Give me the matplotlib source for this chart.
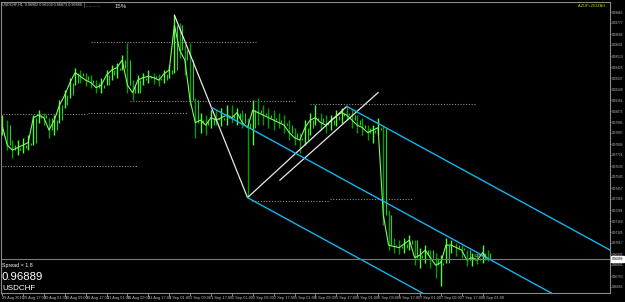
import matplotlib
matplotlib.use("Agg")
import matplotlib.pyplot as plt
import numpy as np
from matplotlib.transforms import blended_transform_factory

plt.rcParams['font.family'] = ['Liberation Sans', 'DejaVu Sans']

symbol = "USDCHF"
bid = 0.96889

# 2-hour bars, 29 Aug 09:00 .. 8 Sep 03:00 (weekend skipped)
highs = [0.9804, 0.9800, 0.9784, 0.9784, 0.9786, 0.9788, 0.9804, 0.9808, 0.9806, 0.9802,
         0.9804, 0.9816, 0.9824, 0.9834, 0.9842, 0.9840, 0.9838, 0.9836, 0.9832, 0.9834,
         0.9840, 0.9844, 0.9846, 0.9852, 0.9862, 0.9832, 0.9836, 0.9838, 0.9840, 0.9838,
         0.9837, 0.9840, 0.9844, 0.9884, 0.9878, 0.9860, 0.9862, 0.9818, 0.9806, 0.9804,
         0.9808, 0.9808, 0.9810, 0.9812, 0.9812, 0.9810, 0.9808, 0.9802, 0.9816, 0.9818,
         0.9812, 0.9810, 0.9808, 0.9806, 0.9804, 0.9800, 0.9794, 0.9790, 0.9800, 0.9806,
         0.9812, 0.9806, 0.9804, 0.9804, 0.9808, 0.9810, 0.9811, 0.9808, 0.9804, 0.9802,
         0.9796, 0.9796, 0.9802, 0.9796, 0.9728, 0.9706, 0.9704, 0.9706, 0.9708, 0.9704,
         0.9698, 0.9700, 0.9696, 0.9694, 0.9692, 0.9706, 0.9704, 0.9702, 0.9700, 0.9696,
         0.9694, 0.9693, 0.9700, 0.9696]
lows = [0.9788, 0.9776, 0.9770, 0.9772, 0.9774, 0.9776, 0.9780, 0.9798, 0.9796, 0.9786,
        0.9788, 0.9798, 0.9810, 0.9818, 0.9828, 0.9830, 0.9827, 0.9826, 0.9822, 0.9822,
        0.9828, 0.9832, 0.9834, 0.9840, 0.9822, 0.9816, 0.9822, 0.9828, 0.9830, 0.9829,
        0.9827, 0.9830, 0.9834, 0.9838, 0.9850, 0.9836, 0.9812, 0.9786, 0.9790, 0.9788,
        0.9794, 0.9796, 0.9795, 0.9796, 0.9798, 0.9796, 0.9794, 0.9738, 0.9780, 0.9796,
        0.9796, 0.9794, 0.9792, 0.9794, 0.9790, 0.9784, 0.9780, 0.9774, 0.9780, 0.9788,
        0.9796, 0.9792, 0.9790, 0.9792, 0.9795, 0.9798, 0.9800, 0.9794, 0.9790, 0.9788,
        0.9784, 0.9782, 0.9788, 0.9716, 0.9696, 0.9694, 0.9693, 0.9694, 0.9696, 0.9684,
        0.9682, 0.9686, 0.9682, 0.9674, 0.9667, 0.9686, 0.9694, 0.9691, 0.9690, 0.9683,
        0.9683, 0.9685, 0.9686, 0.9687]
closes = [0.9796, 0.9780, 0.9776, 0.9778, 0.9780, 0.9782, 0.9802, 0.9804, 0.9802, 0.9792,
          0.9800, 0.9812, 0.9820, 0.9830, 0.9838, 0.9835, 0.9832, 0.9830, 0.9826, 0.9828,
          0.9836, 0.9840, 0.9842, 0.9848, 0.9828, 0.9822, 0.9832, 0.9834, 0.9835, 0.9834,
          0.9832, 0.9837, 0.9840, 0.9876, 0.9856, 0.9848, 0.9816, 0.9798, 0.9800, 0.9796,
          0.9802, 0.9800, 0.9802, 0.9804, 0.9802, 0.9806, 0.9798, 0.9794, 0.9808, 0.9806,
          0.9804, 0.9802, 0.9800, 0.9798, 0.9796, 0.9790, 0.9786, 0.9784, 0.9794, 0.9800,
          0.9802, 0.9798, 0.9796, 0.9800, 0.9803, 0.9806, 0.9804, 0.9800, 0.9796, 0.9794,
          0.9790, 0.9792, 0.9794, 0.9724, 0.9700, 0.9699, 0.9698, 0.9701, 0.9704, 0.9690,
          0.9692, 0.9696, 0.9690, 0.9684, 0.9686, 0.9700, 0.9700, 0.9698, 0.9696, 0.9688,
          0.9690, 0.9688, 0.9694, 0.96889]

time_labels = ["29 Aug 2016", "29 Aug 17:00", "30 Aug 01:00", "30 Aug 09:00", "30 Aug 17:00",
               "31 Aug 01:00", "31 Aug 09:00", "31 Aug 17:00", "1 Sep 01:00", "1 Sep 09:00",
               "1 Sep 17:00", "2 Sep 01:00", "2 Sep 09:00", "2 Sep 17:00", "5 Sep 01:00",
               "5 Sep 09:00", "5 Sep 17:00", "6 Sep 01:00", "6 Sep 09:00", "6 Sep 17:00",
               "7 Sep 01:00", "7 Sep 09:00", "7 Sep 17:00", "8 Sep 01:00"]
label_bars = list(range(0, 93, 4))

# zigzag + parallel line (white)
zigzag_bars = [33, 47, 66]
zigzag_prices = [0.9884, 0.9738, 0.9811]
parallel_bars = [53.2, 72]
parallel_prices = [0.9752, 0.9822]

# down channel (cyan)
chan_mid_bars = [40.2, 116.4]
chan_mid_prices = [0.9810, 0.9636]
chan_top_bars = [66, 116.4]
chan_top_prices = [0.9811, 0.96961]
chan_low_bars = [47, 110]
chan_low_prices = [0.9738, 0.95944]

# dotted levels
level_prices = [0.98625, 0.98153, 0.98049, 0.98057, 0.97633, 0.98129, 0.97353, 0.97369]
level_from = [17.0, 24.5, 0.2, 16.5, 0.0, 58.9, 47.8, 62.8]
level_to = [48.8, 56.3, 16.3, 35.6, 25.8, 90.5, 62.8, 78.7]

W, H = 625, 302
fig = plt.figure(figsize=(W / 100, H / 100), dpi=100, facecolor='black')
ax = fig.add_axes([1 / W, 9 / H, 609 / W, 291 / H], facecolor='black')

bars = np.arange(len(closes))
opens = [closes[0]] + closes[:-1]
cols = ['#4dff2e' if c >= o else '#00a000' for o, c in zip(opens, closes)]

# levels
for p, a, b in zip(level_prices, level_from, level_to):
    ax.plot([a, b], [p, p], color='#8c8c8c', lw=0.8, ls=(0, (1, 1.5)))

ax.vlines(bars, lows, highs, colors=cols, lw=1.0)
ax.vlines(bars + 0.5, np.minimum(opens, closes), np.maximum(opens, closes), colors='#1fd01f', lw=0.8)
ax.plot(bars, closes, color='#7dff5a', lw=0.8)

ax.plot(zigzag_bars, zigzag_prices, color='#e8e8e8', lw=0.9)
ax.plot(parallel_bars, parallel_prices, color='#e8e8e8', lw=0.9)
for bx, py in [(chan_mid_bars, chan_mid_prices), (chan_top_bars, chan_top_prices),
               (chan_low_bars, chan_low_prices)]:
    ax.plot(bx, py, color='#13b5ee', lw=1.0)

# bid line
ax.axhline(bid, color='#7a7a7a', lw=0.8)

ax.set_xlim(-0.2, 116.4)
ax.set_ylim(0.96617, 0.98945)

for s in ax.spines.values():
    s.set_color('#8a8a8a')
    s.set_linewidth(0.8)

ax.set_xticks(label_bars)
ax.set_xticklabels(time_labels)
for t in ax.get_xticklabels():
    t.set_ha('left')
ax.tick_params(axis='x', colors='#bdbdbd', labelsize=2.8, length=2, pad=0.5, width=0.5)

yt = np.round(0.98865 - 0.00088 * np.arange(27), 5)
yt = yt[yt > 0.9663]
ax.yaxis.tick_right()
ax.set_yticks(yt)
ax.set_yticklabels(["%.5f" % v for v in yt])
ax.tick_params(axis='y', colors='#bdbdbd', labelsize=2.3, length=1, pad=0.6, width=0.5)

# bid price box on axis
tr = blended_transform_factory(ax.transAxes, ax.transData)
ax.text(1.0025, bid, "%.5f" % bid, transform=tr, fontsize=2.3, color='black', va='center',
        ha='left', clip_on=False, zorder=10,
        bbox=dict(boxstyle='square,pad=0.2', fc='white', ec='white'))
ax.text(90.4, bid + 0.00024, "0:20:34", fontsize=2.6, color='#bdbdbd', va='center', ha='left')

# header texts
fig.text(2 / W, 1 - 5 / H, "USDCHF,H1  0.96902 0.96909 0.96873 0.96889", fontsize=2.7,
         color='#d8d8d8', va='center', ha='left')
fig.text(84 / W, 1 - 6 / H, "|:...........", fontsize=3.5, color='#9a9a9a', va='center', ha='left')
fig.text(115 / W, 1 - 6 / H, "15%", fontsize=4.4, color='#e0e0e0', va='center', ha='left')
fig.text(606 / W, 1 - 6 / H, "A-ZUP+ZIGZAG", fontsize=2.8, color='#d4d400', va='center', ha='right')

# info panel
fig.text(2 / W, 1 - 265 / H, "Spread = 1.8", fontsize=3.8, color='white', va='center', ha='left')
fig.text(2 / W, 1 - 277 / H, "%.5f" % bid, fontsize=8.2, color='white', va='center', ha='left')
fig.text(2 / W, 1 - 288.5 / H, symbol, fontsize=5.8, color='white', va='center', ha='left')

fig.savefig("out.png", dpi=100, facecolor='black')
